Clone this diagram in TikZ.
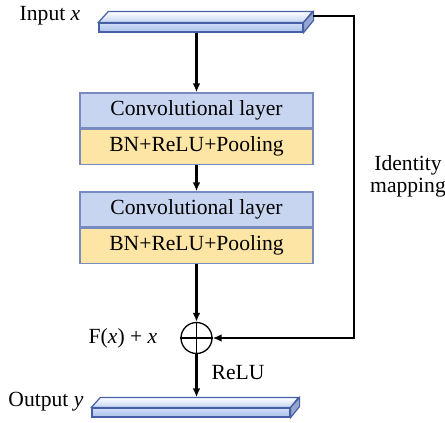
\documentclass[tikz,border=0pt]{standalone}
\usepackage{fontspec}
\setmainfont{Liberation Serif}
\usetikzlibrary{arrows.meta,positioning}
\definecolor{convblue}{RGB}{199,213,240}
\definecolor{convedge}{RGB}{120,138,190}
\definecolor{bnyellow}{RGB}{253,229,166}
\definecolor{barblue}{RGB}{170,194,236}
\definecolor{baredge}{RGB}{70,95,165}
\definecolor{barside}{RGB}{150,166,206}

\begin{document}
\begin{tikzpicture}[x=0.5pt,y=-0.5pt,font=\fontsize{10.8}{13}\selectfont,
  cell/.style={draw=convedge, line width=0.6pt, minimum width=116.5pt, minimum height=17.5pt, inner sep=0pt},
  bar/.style={draw=baredge, line width=0.6pt, top color=barblue!55, bottom color=barblue, minimum height=4.5pt, inner sep=0pt},
  flow/.style={line width=1.1pt, -{Latex[length=4.5pt,width=3.8pt]}}]
  \useasboundingbox (0,0) rectangle (445,423);

  % input slab
  \node[bar, minimum width=102pt] (inbar) at (201,27.5) {};
  \draw[baredge, line width=0.6pt, top color=white, bottom color=barblue!70]
    (inbar.north west) -- ++(10,-11) -- ++(204,0) -- (inbar.north east) -- cycle;
  \draw[baredge, line width=0.6pt, fill=barside]
    (inbar.north east) -- ++(10,-11) -- ++(0,9) -- (inbar.south east) -- cycle;
  \node (inlabel) at (50,16) {Input \textit{x}};

  % two conv blocks
  \node[cell, fill=convblue] (conv1) at (196.5,110.5) {Convolutional layer};
  \node[cell, fill=bnyellow, below=0pt of conv1] (bn1) {BN+ReLU+Pooling};
  \node[cell, fill=convblue] (conv2) at (196.5,209.5) {Convolutional layer};
  \node[cell, fill=bnyellow, below=0pt of conv2] (bn2) {BN+ReLU+Pooling};

  % sum
  \node[circle, draw, line width=0.65pt, minimum size=15.5pt, inner sep=0pt] (add) at (196.5,338) {};
  \draw[line width=0.65pt] (add.north) -- (add.south) (add.west) -- (add.east);
  \node[left=8pt of add] (sumlabel) {F(\textit{x}) + \textit{x}};

  % output slab
  \node[bar, minimum width=99pt] (outbar) at (191,412.5) {};
  \draw[baredge, line width=0.6pt, top color=white, bottom color=barblue!70]
    (outbar.north west) -- ++(9,-10) coordinate (outtl) -- ++(198,0) -- (outbar.north east) -- cycle;
  \draw[baredge, line width=0.6pt, fill=barside]
    (outbar.north east) -- ++(9,-10) -- ++(0,9) -- (outbar.south east) -- cycle;
  \node (outlabel) at (46,402) {Output \textit{y}};

  % connectors
  \draw[flow] (inbar.south -| conv1.north) -- (conv1.north);
  \draw[flow] (bn1.south) -- (conv2.north);
  \draw[flow] (bn2.south) -- (add.north);
  \draw[flow] (add.south) -- (add.south |- outtl);
  \node (relu) at (238,373) {ReLU};

  % identity path
  \coordinate (inright) at (313,16);
  \coordinate (turn) at (354,16);
  \draw[flow] (inright) -- (turn) |- (add.east);
  \node[align=center] (idlabel) at (408,176) {Identity\\[-2pt]mapping};
\end{tikzpicture}
\end{document}
